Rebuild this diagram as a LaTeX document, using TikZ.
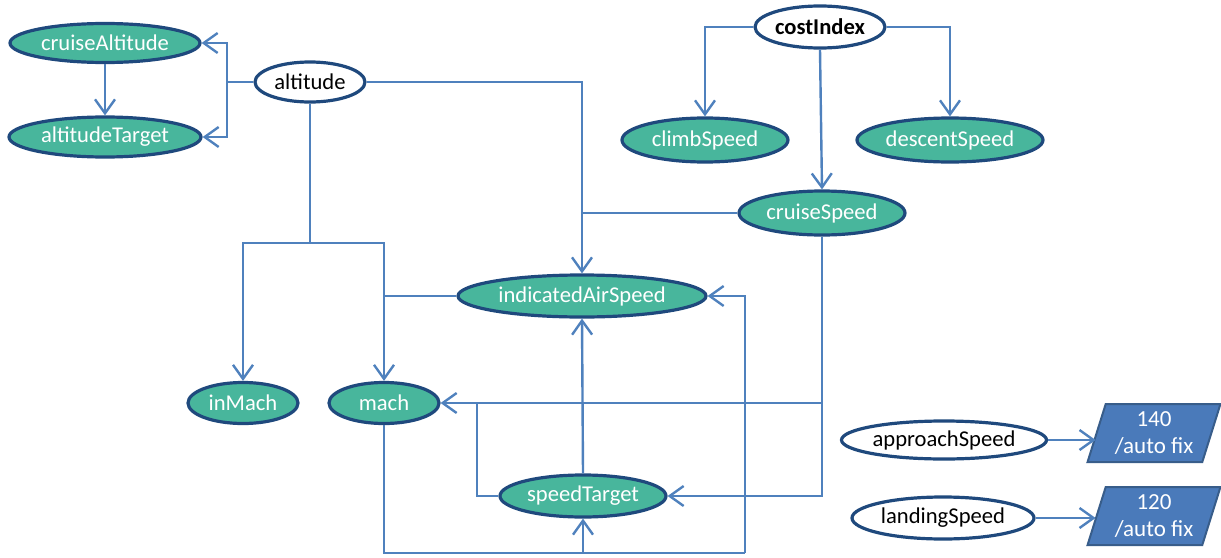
\documentclass[tikz,border=0pt]{standalone}
\usepackage{fontspec}
\setmainfont{Carlito}
\usetikzlibrary{shapes.geometric,arrows.meta}
\definecolor{tealfill}{RGB}{72,182,156}
\definecolor{navy}{RGB}{31,73,125}
\definecolor{lineblue}{RGB}{79,129,189}
\definecolor{boxblue}{RGB}{74,122,186}
\definecolor{boxedge}{RGB}{56,93,138}
\tikzset{
  tnode/.style={ellipse, draw=navy, line width=1.6pt, fill=tealfill, text=white, inner sep=0pt},
  wnode/.style={ellipse, draw=navy, line width=1.6pt, fill=white, text=black, inner sep=0pt},
  conn/.style={draw=lineblue, line width=1.2pt},
  arr/.style={conn, -{Straight Barb[length=7pt,width=10pt]}},
  pbox/.style={trapezium, trapezium left angle=71, trapezium right angle=109, trapezium stretches=true,
    draw=boxedge, fill=boxblue, line width=1pt, text=white, align=center,
    minimum width=66.5pt, minimum height=29pt, inner sep=0pt,
    font=\fontsize{11.5}{13.5}\selectfont}
}
\begin{document}
\begin{tikzpicture}[x=0.5pt,y=-0.5pt,font=\fontsize{11.3}{12.5}\selectfont]
\useasboundingbox (0,0) rectangle (1221,557);
% nodes
\node[tnode, minimum width=95pt, minimum height=19.5pt] (cA) at (105,43) {cruiseAltitude};
\node[tnode, minimum width=96pt, minimum height=20pt] (aT) at (105,137) {altitudeTarget};
\node[wnode, minimum width=55pt, minimum height=20pt] (alt) at (310,82) {altitude};
\node[wnode, minimum width=65pt, minimum height=21pt, inner xsep=-2pt, font=\fontsize{11.3}{12.5}\selectfont\bfseries] (cI) at (820,27) {costIndex};
\node[tnode, minimum width=83pt, minimum height=22pt] (clS) at (705,140) {climbSpeed};
\node[tnode, minimum width=93pt, minimum height=22pt] (deS) at (950,140) {descentSpeed};
\node[tnode, minimum width=83pt, minimum height=22pt] (crS) at (822,213) {cruiseSpeed};
\node[tnode, minimum width=124pt, minimum height=21pt] (IAS) at (582,296) {indicatedAirSpeed};
\node[tnode, minimum width=55pt, minimum height=20.5pt] (inM) at (243,403) {inMach};
\node[tnode, minimum width=55pt, minimum height=20.5pt] (mach) at (384,403) {mach};
\node[tnode, minimum width=83pt, minimum height=21pt] (spT) at (583,496) {speedTarget};
\node[wnode, minimum width=102.5pt, minimum height=19pt, inner xsep=-2pt] (apS) at (944,440) {approachSpeed};
\node[wnode, minimum width=91pt, minimum height=21pt] (laS) at (943,518) {landingSpeed};
\node[pbox] (b140) at (1154,433) {140\\/auto fix};
\node[pbox] (b120) at (1154,516) {120\\/auto fix};
% junction coordinates
\coordinate (jA) at (227,82);
\coordinate (jM) at (310,243);
\coordinate (jS) at (477,403);
\coordinate (jB) at (583,553);
\coordinate (jR) at (745,553);
% altitude group
\draw[conn] (alt.west) -- (jA);
\draw[arr] (jA) |- (cA.east);
\draw[arr] (jA) |- (aT.east);
\draw[arr] (cA.south) -- (aT.north);
\draw[arr] (alt.east) -| (IAS.north);
\draw[conn] (alt.south) -- (jM);
\draw[arr] (jM) -| (inM.north);
\draw[arr] (jM) -| (mach.north);
% cost index group
\draw[arr] (cI.west) -| (clS.north);
\draw[arr] (cI.east) -| (deS.north);
\draw[arr] (cI.south) -- (crS.north);
\draw[conn] (crS.west) -- (crS.west -| IAS.north);
\draw[arr] (crS.south) |- (mach.east);
\draw[arr] (crS.south) |- (spT.east);
% IAS / mach / speedTarget
\draw[conn] (IAS.west) -- (IAS.west -| mach.north);
\draw[conn] (spT.west) -| (jS);
\draw[arr] (spT.north) -- (IAS.south);
\draw[conn] (mach.south) |- (jR);
\draw[arr] (jR) |- (IAS.east);
\draw[arr] (jB) -- (spT.south);
% approach / landing
\draw[arr] (apS.east) -- (apS.east -| b140.west);
\draw[arr] (laS.east) -- (laS.east -| b120.west);
\end{tikzpicture}
\end{document}
